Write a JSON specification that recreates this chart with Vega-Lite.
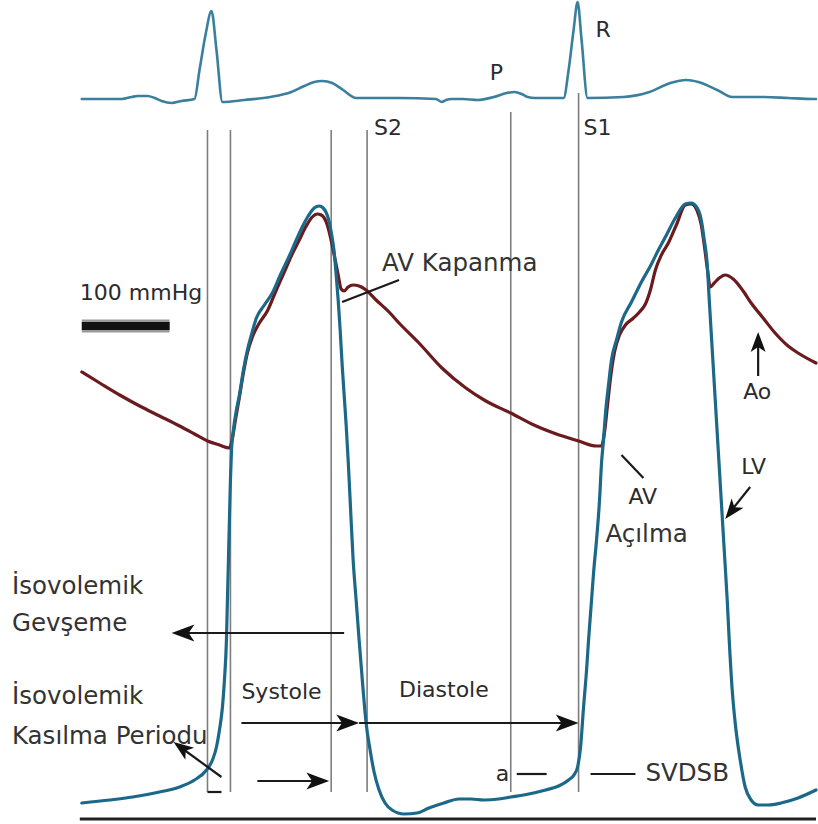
{
  "$schema": "https://vega.github.io/schema/vega-lite/v6.json",
  "width": 818,
  "height": 824,
  "autosize": {"type": "fit", "contains": "padding"},
  "padding": 0,
  "background": "white",
  "config": {"view": {"stroke": null}},
  "datasets": {
    "ecg": [
      {"x":82,"y":99},{"x":122,"y":99},{"x":132,"y":97},{"x":138,"y":96},{"x":148,"y":96},{"x":155,"y":98},{"x":162,"y":101},{"x":172,"y":103},{"x":182,"y":101},{"x":195,"y":99},{"x":200,"y":70},{"x":206,"y":35},{"x":212,"y":11},{"x":217,"y":50},{"x":223,"y":102},{"x":245,"y":100},{"x":271,"y":97},{"x":292,"y":92},{"x":305,"y":86},{"x":315,"y":82},{"x":323,"y":81},{"x":333,"y":83},{"x":344,"y":90},{"x":357,"y":98},{"x":400,"y":98},{"x":437,"y":99},{"x":443,"y":102},{"x":447,"y":100},{"x":453,"y":99},{"x":464,"y":99},{"x":479,"y":100},{"x":495,"y":97},{"x":508,"y":93},{"x":516,"y":92},{"x":523,"y":94},{"x":529,"y":97},{"x":536,"y":98},{"x":565,"y":98},{"x":570,"y":70},{"x":575,"y":30},{"x":579,"y":2},{"x":583,"y":40},{"x":589,"y":98},{"x":625,"y":97},{"x":651,"y":92},{"x":672,"y":83},{"x":688,"y":80},{"x":700,"y":82},{"x":719,"y":90},{"x":734,"y":97},{"x":766,"y":97},{"x":790,"y":98},{"x":815,"y":99},{"x":818,"y":99}
    ],
    "lv": [
      {"x":82,"y":803},{"x":110,"y":800},{"x":133,"y":797},{"x":160,"y":792},{"x":180,"y":787},{"x":195,"y":780},{"x":207,"y":770},{"x":213,"y":760},{"x":217,"y":747},{"x":220,"y":730},{"x":223,"y":707},{"x":225,"y":680},{"x":227,"y":640},{"x":228,"y":600},{"x":229,"y":560},{"x":230,"y":520},{"x":231,"y":480},{"x":232,"y":452},{"x":234,"y":430},{"x":237,"y":410},{"x":240,"y":395},{"x":244,"y":370},{"x":248,"y":350},{"x":252,"y":335},{"x":257,"y":318},{"x":265,"y":305},{"x":273,"y":293},{"x":281,"y":275},{"x":290,"y":256},{"x":297,"y":240},{"x":303,"y":227},{"x":309,"y":216},{"x":315,"y":208},{"x":320,"y":206},{"x":324,"y":208},{"x":328,"y":215},{"x":332,"y":232},{"x":335,"y":252},{"x":337,"y":275},{"x":339,"y":300},{"x":341,"y":330},{"x":343,"y":365},{"x":345,"y":395},{"x":347,"y":425},{"x":349,"y":460},{"x":351,"y":500},{"x":354,"y":560},{"x":357,"y":600},{"x":360,"y":640},{"x":364,"y":690},{"x":367,"y":723},{"x":371,"y":750},{"x":375,"y":772},{"x":380,"y":790},{"x":386,"y":803},{"x":393,"y":810},{"x":405,"y":814},{"x":418,"y":813},{"x":430,"y":808},{"x":445,"y":803},{"x":460,"y":799},{"x":472,"y":799},{"x":485,"y":800},{"x":500,"y":799},{"x":512,"y":797},{"x":530,"y":794},{"x":547,"y":790},{"x":560,"y":786},{"x":570,"y":780},{"x":576,"y":774},{"x":579,"y":767},{"x":582,"y":747},{"x":585,"y":707},{"x":588,"y":670},{"x":590,"y":640},{"x":593,"y":600},{"x":595,"y":573},{"x":598,"y":540},{"x":601,"y":500},{"x":603,"y":463},{"x":605,"y":440},{"x":607,"y":413},{"x":610,"y":385},{"x":613,"y":360},{"x":618,"y":340},{"x":623,"y":322},{"x":633,"y":302},{"x":643,"y":282},{"x":652,"y":266},{"x":660,"y":250},{"x":667,"y":237},{"x":677,"y":218},{"x":687,"y":204},{"x":693,"y":203},{"x":699,"y":208},{"x":703,"y":220},{"x":706,"y":240},{"x":709,"y":265},{"x":711,"y":300},{"x":714,"y":350},{"x":717,"y":400},{"x":720,"y":450},{"x":723,"y":500},{"x":726,"y":550},{"x":729,"y":600},{"x":731,"y":640},{"x":734,"y":690},{"x":737,"y":723},{"x":742,"y":760},{"x":747,"y":787},{"x":753,"y":800},{"x":760,"y":805},{"x":770,"y":805},{"x":783,"y":803},{"x":800,"y":798},{"x":818,"y":790}
    ],
    "ao": [
      {"x":82,"y":372},{"x":100,"y":383},{"x":120,"y":395},{"x":140,"y":406},{"x":160,"y":416},{"x":180,"y":426},{"x":195,"y":434},{"x":208,"y":441},{"x":220,"y":445},{"x":230,"y":448},{"x":233,"y":438},{"x":236,"y":420},{"x":240,"y":397},{"x":244,"y":373},{"x":248,"y":353},{"x":253,"y":337},{"x":260,"y":323},{"x":268,"y":311},{"x":277,"y":290},{"x":285,"y":272},{"x":292,"y":256},{"x":300,"y":240},{"x":307,"y":226},{"x":313,"y":217},{"x":318,"y":214},{"x":322,"y":215},{"x":327,"y":222},{"x":331,"y":236},{"x":335,"y":255},{"x":339,"y":275},{"x":342,"y":289},{"x":345,"y":291},{"x":349,"y":287},{"x":354,"y":285},{"x":360,"y":286},{"x":367,"y":290},{"x":377,"y":300},{"x":390,"y":312},{"x":400,"y":323},{"x":420,"y":343},{"x":443,"y":368},{"x":467,"y":388},{"x":487,"y":401},{"x":512,"y":413},{"x":533,"y":424},{"x":555,"y":433},{"x":580,"y":441},{"x":598,"y":446},{"x":603,"y":446},{"x":606,"y":432},{"x":609,"y":405},{"x":612,"y":378},{"x":616,"y":352},{"x":621,"y":335},{"x":627,"y":325},{"x":635,"y":318},{"x":642,"y":311},{"x":647,"y":304},{"x":652,"y":290},{"x":657,"y":270},{"x":663,"y":255},{"x":670,"y":243},{"x":678,"y":225},{"x":687,"y":205},{"x":693,"y":204},{"x":699,"y":211},{"x":703,"y":225},{"x":706,"y":245},{"x":709,"y":268},{"x":712,"y":287},{"x":716,"y":283},{"x":721,"y":278},{"x":727,"y":275},{"x":735,"y":279},{"x":745,"y":291},{"x":753,"y":303},{"x":765,"y":318},{"x":777,"y":333},{"x":790,"y":346},{"x":800,"y":353},{"x":818,"y":363}
    ],
    "markers": [
      {"event":"Q1","x":208,"y":130,"y2":792},
      {"event":"AV açılma 1","x":231,"y":130,"y2":792},
      {"event":"AV kapanma 1","x":332,"y":130,"y2":792},
      {"event":"S2","x":368,"y":130,"y2":792},
      {"event":"a","x":512,"y":112,"y2":792},
      {"event":"S1","x":580,"y":93,"y2":792}
    ],
    "segments": [
      {"id":"gev","x":345,"y":633,"x2":180,"y2":633},
      {"id":"sys","x":242,"y":723,"x2":352,"y2":723},
      {"id":"dia","x":360,"y":723,"x2":572,"y2":723},
      {"id":"small","x":258,"y":781,"x2":322,"y2":781},
      {"id":"aoArrow","x":760,"y":376,"x2":760,"y2":340},
      {"id":"lvArrow","x":752,"y":487,"x2":732,"y2":512},
      {"id":"kas","x":222,"y":777,"x2":182,"y2":748},
      {"id":"leaderKap","x":343,"y":302,"x2":400,"y2":280},
      {"id":"leaderAcil","x":623,"y":455,"x2":645,"y2":478},
      {"id":"dashA","x":518,"y":774,"x2":548,"y2":774},
      {"id":"dashS","x":592,"y":774,"x2":637,"y2":774},
      {"id":"bracket","x":208,"y":792,"x2":222,"y2":792}
    ],
    "heads": [
      {"id":"sys","dir":"right","x":360,"y":723},
      {"id":"dia","dir":"right","x":580,"y":723},
      {"id":"small","dir":"right","x":330,"y":781},
      {"id":"gev","dir":"left","x":172,"y":633},
      {"id":"aoArrow","dir":"up","x":760,"y":332},
      {"id":"lvArrow","dir":"downleft","x":727,"y":519},
      {"id":"kas","dir":"upleft","x":174,"y":742}
    ],
    "scalebar": [{"label":"100 mmHg","x":82,"y":326,"x2":170,"y2":326}],
    "baseline": [{"x":80,"y":819,"x2":818,"y2":819}],
    "labels": [
      {"kind":"en","text":"R","x":597,"y":30},
      {"kind":"en","text":"P","x":491,"y":73},
      {"kind":"en","text":"S2","x":375,"y":128},
      {"kind":"en","text":"S1","x":585,"y":128},
      {"kind":"en","text":"100 mmHg","x":80,"y":293},
      {"kind":"en","text":"Ao","x":745,"y":392},
      {"kind":"en","text":"LV","x":743,"y":467},
      {"kind":"en","text":"AV","x":630,"y":497},
      {"kind":"en","text":"Systole","x":242,"y":692},
      {"kind":"en","text":"Diastole","x":400,"y":690},
      {"kind":"en","text":"a","x":497,"y":774},
      {"kind":"tr","text":"AV Kapanma","x":383,"y":264},
      {"kind":"tr","text":"Açılma","x":607,"y":535},
      {"kind":"tr","text":"İsovolemik","x":12,"y":587},
      {"kind":"tr","text":"Gevşeme","x":12,"y":624},
      {"kind":"tr","text":"İsovolemik","x":12,"y":697},
      {"kind":"tr","text":"Kasılma Periodu","x":12,"y":737},
      {"kind":"tr","text":"SVDSB","x":647,"y":774}
    ]
  },
  "encoding": {
    "x": {"field":"x","type":"quantitative","scale":{"domain":[0,818],"nice":false,"zero":false},"axis":null},
    "y": {"field":"y","type":"quantitative","scale":{"domain":[0,824],"nice":false,"zero":false,"reverse":true},"axis":null}
  },
  "layer": [
    {
      "data": {"name":"markers"},
      "mark": {"type":"rule","color":"#7d7d7d","strokeWidth":1.6},
      "encoding": {"y2":{"field":"y2"}}
    },
    {
      "data": {"name":"baseline"},
      "mark": {"type":"rule","color":"#222222","strokeWidth":3},
      "encoding": {"x2":{"field":"x2"},"y2":{"field":"y2"}}
    },
    {
      "data": {"name":"scalebar"},
      "mark": {"type":"rule","color":"#9a9a9a","strokeWidth":13},
      "encoding": {"x2":{"field":"x2"},"y2":{"field":"y2"}}
    },
    {
      "data": {"name":"scalebar"},
      "mark": {"type":"rule","color":"#111111","strokeWidth":8},
      "encoding": {"x2":{"field":"x2"},"y2":{"field":"y2"}}
    },
    {
      "data": {"name":"ecg"},
      "mark": {"type":"line","color":"#3a7f9c","strokeWidth":2.6,"interpolate":"monotone","strokeJoin":"round","strokeCap":"round"},
      "encoding": {}
    },
    {
      "data": {"name":"ao"},
      "mark": {"type":"line","color":"#6b1a1e","strokeWidth":3.2,"interpolate":"monotone","strokeJoin":"round","strokeCap":"round"},
      "encoding": {}
    },
    {
      "data": {"name":"lv"},
      "mark": {"type":"line","color":"#1c6888","strokeWidth":3.2,"interpolate":"monotone","strokeJoin":"round","strokeCap":"round"},
      "encoding": {}
    },
    {
      "data": {"name":"segments"},
      "mark": {"type":"rule","color":"#1a1a1a","strokeWidth":2.2},
      "encoding": {"x2":{"field":"x2"},"y2":{"field":"y2"}}
    },
    {
      "data": {"name":"heads"},
      "transform": [{"filter":"datum.dir === 'right'"}],
      "mark": {"type":"point","shape":"M0,0L-2,-0.75L-1.5,0L-2,0.75Z","filled":true,"color":"#111111","opacity":1,"size":520,"angle":0}
    },
    {
      "data": {"name":"heads"},
      "transform": [{"filter":"datum.dir === 'left'"}],
      "mark": {"type":"point","shape":"M0,0L-2,-0.75L-1.5,0L-2,0.75Z","filled":true,"color":"#111111","opacity":1,"size":520,"angle":180}
    },
    {
      "data": {"name":"heads"},
      "transform": [{"filter":"datum.dir === 'up'"}],
      "mark": {"type":"point","shape":"M0,0L-2,-0.75L-1.5,0L-2,0.75Z","filled":true,"color":"#111111","opacity":1,"size":400,"angle":270}
    },
    {
      "data": {"name":"heads"},
      "transform": [{"filter":"datum.dir === 'downleft'"}],
      "mark": {"type":"point","shape":"M0,0L-2,-0.75L-1.5,0L-2,0.75Z","filled":true,"color":"#111111","opacity":1,"size":400,"angle":128}
    },
    {
      "data": {"name":"heads"},
      "transform": [{"filter":"datum.dir === 'upleft'"}],
      "mark": {"type":"point","shape":"M0,0L-2,-0.75L-1.5,0L-2,0.75Z","filled":true,"color":"#111111","opacity":1,"size":400,"angle":216}
    },
    {
      "data": {"name":"labels"},
      "transform": [{"filter":"datum.kind === 'en'"}],
      "mark": {"type":"text","align":"left","baseline":"middle","font":"DejaVu Sans","fontSize":22,"color":"#2b2b2b"},
      "encoding": {"text":{"field":"text"}}
    },
    {
      "data": {"name":"labels"},
      "transform": [{"filter":"datum.kind === 'tr'"}],
      "mark": {"type":"text","align":"left","baseline":"middle","font":"DejaVu Sans","fontSize":24.5,"color":"#333333"},
      "encoding": {"text":{"field":"text"}}
    }
  ]
}
